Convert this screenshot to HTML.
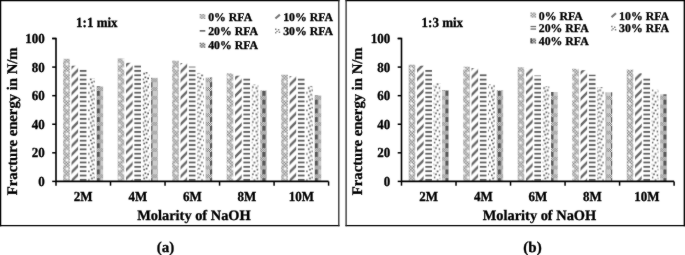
<!DOCTYPE html>
<html><head><meta charset="utf-8"><style>
html,body{margin:0;padding:0;background:#fff;width:685px;height:255px;overflow:hidden}
svg{display:block}
</style></head><body><div id="w">
<svg width="685" height="255" viewBox="0 0 685 255">
<style>
text{font-family:"Liberation Serif",serif;font-weight:bold;text-rendering:geometricPrecision;fill:#000;stroke:#000;stroke-width:0.3px}
.t13{font-size:13px}
.t11{font-size:11.8px}
.t14{font-size:14.4px}
.t14y{font-size:14.7px}
.t15{font-size:15px}
</style>
<defs>
<pattern id="p0" patternUnits="userSpaceOnUse" x="6.060" y="3.160" width="8.72" height="8.72">
<rect width="8.72" height="8.72" fill="#dedede"/>
<path d="M0.0 0.0h1.453v1.453h-1.453zM2.907 0.0h1.453v1.453h-1.453zM5.813 0.0h1.453v1.453h-1.453zM1.453 1.453h1.453v1.453h-1.453zM4.36 1.453h1.453v1.453h-1.453zM7.267 1.453h1.453v1.453h-1.453zM0.0 2.907h1.453v1.453h-1.453zM2.907 2.907h1.453v1.453h-1.453zM5.813 2.907h1.453v1.453h-1.453zM1.453 4.36h1.453v1.453h-1.453zM4.36 4.36h1.453v1.453h-1.453zM7.267 4.36h1.453v1.453h-1.453zM0.0 5.813h1.453v1.453h-1.453zM2.907 5.813h1.453v1.453h-1.453zM5.813 5.813h1.453v1.453h-1.453zM1.453 7.267h1.453v1.453h-1.453zM4.36 7.267h1.453v1.453h-1.453zM7.267 7.267h1.453v1.453h-1.453z" fill="#8a8a8a"/>
<path d="M0.000 -2.500L2.500 0.000L0.000 2.500L-2.500 0.000zM8.720 -2.500L11.220 0.000L8.720 2.500L6.220 0.000zM0.000 6.220L2.500 8.720L0.000 11.220L-2.500 8.720zM8.720 6.220L11.220 8.720L8.720 11.220L6.220 8.720zM4.360 1.860L6.860 4.360L4.360 6.860L1.860 4.360z" fill="#cacaca"/>
<path d="M0.000 -1.350L1.350 0.000L0.000 1.350L-1.350 0.000zM8.720 -1.350L10.070 0.000L8.720 1.350L7.370 0.000zM0.000 7.370L1.350 8.720L0.000 10.070L-1.350 8.720zM8.720 7.370L10.070 8.720L8.720 10.070L7.370 8.720zM4.360 3.010L5.710 4.360L4.360 5.710L3.010 4.360z" fill="#ffffff"/>
</pattern>
<pattern id="p1" patternUnits="userSpaceOnUse" x="8.380" y="0" width="8.72" height="8.72">
<rect width="8.72" height="8.72" fill="#fff"/>
<path d="M-3 3L3 -3M-3 11.72L11.72 -3M5.720000000000001 11.72L11.72 5.720000000000001" stroke="#686868" stroke-width="2.4"/>
</pattern>
<pattern id="p2" patternUnits="userSpaceOnUse" x="0" y="1.140" width="8.72" height="4.36">
<rect width="8.72" height="4.36" fill="#fff"/>
<rect x="0" y="-0.95" width="8.72" height="1.9" fill="#666"/>
<rect x="0" y="3.410" width="8.72" height="1.9" fill="#666"/>
</pattern>
<pattern id="p3" patternUnits="userSpaceOnUse" x="7.520" y="0.480" width="8.72" height="8.72">
<rect width="8.72" height="8.72" fill="#fff"/>
<path d="M-4.87 -9.17h1.7v1.7h-1.7zM-4.87 -0.45h1.7v1.7h-1.7zM-4.87 8.27h1.7v1.7h-1.7zM3.85 -9.17h1.7v1.7h-1.7zM3.85 -0.45h1.7v1.7h-1.7zM3.85 8.27h1.7v1.7h-1.7zM12.57 -9.17h1.7v1.7h-1.7zM12.57 -0.45h1.7v1.7h-1.7zM12.57 8.27h1.7v1.7h-1.7zM-3.67 -6.07h1.7v1.7h-1.7zM-3.67 2.65h1.7v1.7h-1.7zM-3.67 11.37h1.7v1.7h-1.7zM5.05 -6.07h1.7v1.7h-1.7zM5.05 2.65h1.7v1.7h-1.7zM5.05 11.37h1.7v1.7h-1.7zM13.77 -6.07h1.7v1.7h-1.7zM13.77 2.65h1.7v1.7h-1.7zM13.77 11.37h1.7v1.7h-1.7zM-6.87 -4.47h1.7v1.7h-1.7zM-6.87 4.25h1.7v1.7h-1.7zM-6.87 12.97h1.7v1.7h-1.7zM1.85 -4.47h1.7v1.7h-1.7zM1.85 4.25h1.7v1.7h-1.7zM1.85 12.97h1.7v1.7h-1.7zM10.57 -4.47h1.7v1.7h-1.7zM10.57 4.25h1.7v1.7h-1.7zM10.57 12.97h1.7v1.7h-1.7zM-2.47 -2.47h1.7v1.7h-1.7zM-2.47 6.25h1.7v1.7h-1.7zM-2.47 14.97h1.7v1.7h-1.7zM6.25 -2.47h1.7v1.7h-1.7zM6.25 6.25h1.7v1.7h-1.7zM6.25 14.97h1.7v1.7h-1.7zM14.97 -2.47h1.7v1.7h-1.7zM14.97 6.25h1.7v1.7h-1.7zM14.97 14.97h1.7v1.7h-1.7zM-1.27 -6.97h1.7v1.7h-1.7zM-1.27 1.75h1.7v1.7h-1.7zM-1.27 10.47h1.7v1.7h-1.7zM7.45 -6.97h1.7v1.7h-1.7zM7.45 1.75h1.7v1.7h-1.7zM7.45 10.47h1.7v1.7h-1.7zM16.17 -6.97h1.7v1.7h-1.7zM16.17 1.75h1.7v1.7h-1.7zM16.17 10.47h1.7v1.7h-1.7zM-8.47 -1.57h1.7v1.7h-1.7zM-8.47 7.15h1.7v1.7h-1.7zM-8.47 15.87h1.7v1.7h-1.7zM0.25 -1.57h1.7v1.7h-1.7zM0.25 7.15h1.7v1.7h-1.7zM0.25 15.87h1.7v1.7h-1.7zM8.97 -1.57h1.7v1.7h-1.7zM8.97 7.15h1.7v1.7h-1.7zM8.97 15.87h1.7v1.7h-1.7z" fill="#5e5e5e"/>
</pattern>
<pattern id="p4" patternUnits="userSpaceOnUse" x="0.680" y="3.780" width="8.72" height="8.72">
<rect width="8.72" height="8.72" fill="#eeeeee"/>
<rect x="0" y="0" width="8.72" height="4.8" fill="#cdcdcd"/>
<rect x="0" y="0" width="3.4" height="4.8" fill="#585858"/>
<path d="M0.0 4.8h1.09v0.981h-1.09zM2.18 4.8h1.09v0.981h-1.09zM4.36 4.8h1.09v0.981h-1.09zM6.54 4.8h1.09v0.981h-1.09zM1.09 5.781h1.09v0.981h-1.09zM3.27 5.781h1.09v0.981h-1.09zM5.45 5.781h1.09v0.981h-1.09zM7.63 5.781h1.09v0.981h-1.09zM0.0 6.762h1.09v0.981h-1.09zM2.18 6.762h1.09v0.981h-1.09zM4.36 6.762h1.09v0.981h-1.09zM6.54 6.762h1.09v0.981h-1.09zM1.09 7.743h1.09v0.981h-1.09zM3.27 7.743h1.09v0.981h-1.09zM5.45 7.743h1.09v0.981h-1.09zM7.63 7.743h1.09v0.981h-1.09z" fill="#6e6e6e"/>
</pattern>
</defs>
<filter id="bl" x="0" y="0" width="685" height="255" filterUnits="userSpaceOnUse" color-interpolation-filters="sRGB"><feConvolveMatrix order="3" kernelMatrix="1 2 1 2 40 2 1 2 1" edgeMode="duplicate"/></filter>
<g filter="url(#bl)">
<rect width="685" height="255" fill="#fff"/>
<path d="M0 0.6H339.5M0 225.6H339.5" stroke="#000" stroke-width="1.3"/>
<path d="M0.6 0V226.3" stroke="#000" stroke-width="1.3"/>
<path d="M338.8 0V226.3" stroke="#2a2a2a" stroke-width="1.3"/>
<rect x="63.15" y="58.80" width="6.6" height="122.60" fill="url(#p0)"/>
<rect x="71.50" y="65.70" width="6.6" height="115.70" fill="url(#p1)"/>
<rect x="79.85" y="69.30" width="6.6" height="112.10" fill="url(#p2)"/>
<rect x="88.20" y="78.10" width="6.6" height="103.30" fill="url(#p3)"/>
<rect x="96.55" y="86.30" width="6.6" height="95.10" fill="url(#p4)"/>
<rect x="117.67" y="58.40" width="6.6" height="123.00" fill="url(#p0)"/>
<rect x="126.02" y="62.80" width="6.6" height="118.60" fill="url(#p1)"/>
<rect x="134.37" y="64.70" width="6.6" height="116.70" fill="url(#p2)"/>
<rect x="142.72" y="72.00" width="6.6" height="109.40" fill="url(#p3)"/>
<rect x="151.07" y="77.80" width="6.6" height="103.60" fill="url(#p4)"/>
<rect x="172.19" y="60.60" width="6.6" height="120.80" fill="url(#p0)"/>
<rect x="180.54" y="63.00" width="6.6" height="118.40" fill="url(#p1)"/>
<rect x="188.89" y="66.60" width="6.6" height="114.80" fill="url(#p2)"/>
<rect x="197.24" y="72.90" width="6.6" height="108.50" fill="url(#p3)"/>
<rect x="205.59" y="77.50" width="6.6" height="103.90" fill="url(#p4)"/>
<rect x="226.71" y="73.40" width="6.6" height="108.00" fill="url(#p0)"/>
<rect x="235.06" y="75.70" width="6.6" height="105.70" fill="url(#p1)"/>
<rect x="243.41" y="78.10" width="6.6" height="103.30" fill="url(#p2)"/>
<rect x="251.76" y="84.50" width="6.6" height="96.90" fill="url(#p3)"/>
<rect x="260.11" y="90.50" width="6.6" height="90.90" fill="url(#p4)"/>
<rect x="281.23" y="74.70" width="6.6" height="106.70" fill="url(#p0)"/>
<rect x="289.58" y="76.00" width="6.6" height="105.40" fill="url(#p1)"/>
<rect x="297.93" y="77.70" width="6.6" height="103.70" fill="url(#p2)"/>
<rect x="306.28" y="85.90" width="6.6" height="95.50" fill="url(#p3)"/>
<rect x="314.63" y="95.40" width="6.6" height="86.00" fill="url(#p4)"/>
<path d="M52.2 38.5H56.0V181.4H328.6" fill="none" stroke="#000" stroke-width="1.6"/>
<path d="M52.2 181.40H56.0" stroke="#000" stroke-width="1.5"/>
<text transform="translate(44.7 186.00) scale(1 1.06)" text-anchor="end" class="t13">0</text>
<path d="M52.2 152.82H56.0" stroke="#000" stroke-width="1.5"/>
<text transform="translate(44.7 157.42) scale(1 1.06)" text-anchor="end" class="t13">20</text>
<path d="M52.2 124.24H56.0" stroke="#000" stroke-width="1.5"/>
<text transform="translate(44.7 128.84) scale(1 1.06)" text-anchor="end" class="t13">40</text>
<path d="M52.2 95.66H56.0" stroke="#000" stroke-width="1.5"/>
<text transform="translate(44.7 100.26) scale(1 1.06)" text-anchor="end" class="t13">60</text>
<path d="M52.2 67.08H56.0" stroke="#000" stroke-width="1.5"/>
<text transform="translate(44.7 71.68) scale(1 1.06)" text-anchor="end" class="t13">80</text>
<path d="M52.2 38.50H56.0" stroke="#000" stroke-width="1.5"/>
<text transform="translate(44.7 43.10) scale(1 1.06)" text-anchor="end" class="t13">100</text>
<path d="M56.00 181.4V185.70000000000002" stroke="#000" stroke-width="1.5"/>
<path d="M110.52 181.4V185.70000000000002" stroke="#000" stroke-width="1.5"/>
<path d="M165.04 181.4V185.70000000000002" stroke="#000" stroke-width="1.5"/>
<path d="M219.56 181.4V185.70000000000002" stroke="#000" stroke-width="1.5"/>
<path d="M274.08 181.4V185.70000000000002" stroke="#000" stroke-width="1.5"/>
<path d="M328.60 181.4V185.70000000000002" stroke="#000" stroke-width="1.5"/>
<text transform="translate(83.26 201.0) scale(1 1.06)" text-anchor="middle" class="t13">2M</text>
<text transform="translate(137.78 201.0) scale(1 1.06)" text-anchor="middle" class="t13">4M</text>
<text transform="translate(192.30 201.0) scale(1 1.06)" text-anchor="middle" class="t13">6M</text>
<text transform="translate(246.82 201.0) scale(1 1.06)" text-anchor="middle" class="t13">8M</text>
<text transform="translate(301.34 201.0) scale(1 1.06)" text-anchor="middle" class="t13">10M</text>
<text x="194" y="220" text-anchor="middle" class="t14">Molarity of NaOH</text>
<text transform="translate(16.9 121.3) rotate(-90)" text-anchor="middle" class="t14y">Fracture energy in N/m</text>
<text transform="translate(76.1 26.5) scale(1 1.07)" class="t13">1:1 mix</text>
<rect x="199.7" y="14.0" width="5.6" height="5.0" fill="#d8d8d8"/><path d="M199.7 14.0h1.4v1.25h-1.4zM202.5 14.0h1.4v1.25h-1.4zM201.1 15.25h1.4v1.25h-1.4zM203.9 15.25h1.4v1.25h-1.4zM199.7 16.5h1.4v1.25h-1.4zM202.5 16.5h1.4v1.25h-1.4zM201.1 17.75h1.4v1.25h-1.4zM203.9 17.75h1.4v1.25h-1.4z" fill="#9a9a9a"/>
<text x="208.20" y="20.90" class="t11">0% RFA</text>
<path d="M275.4 18.5L279.9 14.6" stroke="#7a7a7a" stroke-width="2.1"/>
<text x="283.20" y="20.90" class="t11">10% RFA</text>
<rect x="199.7" y="30.0" width="5.6" height="1.7" fill="#707070"/>
<text x="208.20" y="35.00" class="t11">20% RFA</text>
<path d="M275.0 28.400000000000002h1.5v1.5h-1.5zM277.9 29.0h1.5v1.5h-1.5zM276.3 30.700000000000003h1.4v1.4h-1.4zM278.7 31.5h1.5v1.5h-1.5zM275.09999999999997 32.1h1.3v1.3h-1.3z" fill="#808080"/>
<text x="283.20" y="35.00" class="t11">30% RFA</text>
<rect x="199.7" y="42.8" width="5.6" height="5.0" fill="#c8c8c8"/><path d="M199.7 42.8h1.4v1.25h-1.4zM202.5 42.8h1.4v1.25h-1.4zM201.1 44.05h1.4v1.25h-1.4zM203.9 44.05h1.4v1.25h-1.4zM199.7 45.3h1.4v1.25h-1.4zM202.5 45.3h1.4v1.25h-1.4zM201.1 46.55h1.4v1.25h-1.4zM203.9 46.55h1.4v1.25h-1.4z" fill="#7a7a7a"/>
<text x="208.20" y="49.20" class="t11">40% RFA</text>
<path d="M345.5 0.6H685.0M345.5 225.6H685.0" stroke="#000" stroke-width="1.3"/>
<path d="M346.1 0V226.3" stroke="#2a2a2a" stroke-width="1.3"/>
<path d="M684.3 0V226.3" stroke="#000" stroke-width="1.3"/>
<rect x="408.65" y="64.70" width="6.6" height="116.70" fill="url(#p0)"/>
<rect x="417.00" y="65.70" width="6.6" height="115.70" fill="url(#p1)"/>
<rect x="425.35" y="69.60" width="6.6" height="111.80" fill="url(#p2)"/>
<rect x="433.70" y="83.00" width="6.6" height="98.40" fill="url(#p3)"/>
<rect x="442.05" y="90.00" width="6.6" height="91.40" fill="url(#p4)"/>
<rect x="463.17" y="66.70" width="6.6" height="114.70" fill="url(#p0)"/>
<rect x="471.52" y="68.10" width="6.6" height="113.30" fill="url(#p1)"/>
<rect x="479.87" y="73.60" width="6.6" height="107.80" fill="url(#p2)"/>
<rect x="488.22" y="84.40" width="6.6" height="97.00" fill="url(#p3)"/>
<rect x="496.57" y="90.30" width="6.6" height="91.10" fill="url(#p4)"/>
<rect x="517.69" y="67.30" width="6.6" height="114.10" fill="url(#p0)"/>
<rect x="526.04" y="68.70" width="6.6" height="112.70" fill="url(#p1)"/>
<rect x="534.39" y="75.50" width="6.6" height="105.90" fill="url(#p2)"/>
<rect x="542.74" y="86.30" width="6.6" height="95.10" fill="url(#p3)"/>
<rect x="551.09" y="92.00" width="6.6" height="89.40" fill="url(#p4)"/>
<rect x="572.21" y="68.70" width="6.6" height="112.70" fill="url(#p0)"/>
<rect x="580.56" y="70.20" width="6.6" height="111.20" fill="url(#p1)"/>
<rect x="588.91" y="74.60" width="6.6" height="106.80" fill="url(#p2)"/>
<rect x="597.26" y="87.00" width="6.6" height="94.40" fill="url(#p3)"/>
<rect x="605.61" y="92.30" width="6.6" height="89.10" fill="url(#p4)"/>
<rect x="626.73" y="69.60" width="6.6" height="111.80" fill="url(#p0)"/>
<rect x="635.08" y="73.30" width="6.6" height="108.10" fill="url(#p1)"/>
<rect x="643.43" y="77.50" width="6.6" height="103.90" fill="url(#p2)"/>
<rect x="651.78" y="89.30" width="6.6" height="92.10" fill="url(#p3)"/>
<rect x="660.13" y="94.30" width="6.6" height="87.10" fill="url(#p4)"/>
<path d="M397.7 38.5H401.5V181.4H674.1" fill="none" stroke="#000" stroke-width="1.6"/>
<path d="M397.7 181.40H401.5" stroke="#000" stroke-width="1.5"/>
<text transform="translate(390.2 186.00) scale(1 1.06)" text-anchor="end" class="t13">0</text>
<path d="M397.7 152.82H401.5" stroke="#000" stroke-width="1.5"/>
<text transform="translate(390.2 157.42) scale(1 1.06)" text-anchor="end" class="t13">20</text>
<path d="M397.7 124.24H401.5" stroke="#000" stroke-width="1.5"/>
<text transform="translate(390.2 128.84) scale(1 1.06)" text-anchor="end" class="t13">40</text>
<path d="M397.7 95.66H401.5" stroke="#000" stroke-width="1.5"/>
<text transform="translate(390.2 100.26) scale(1 1.06)" text-anchor="end" class="t13">60</text>
<path d="M397.7 67.08H401.5" stroke="#000" stroke-width="1.5"/>
<text transform="translate(390.2 71.68) scale(1 1.06)" text-anchor="end" class="t13">80</text>
<path d="M397.7 38.50H401.5" stroke="#000" stroke-width="1.5"/>
<text transform="translate(390.2 43.10) scale(1 1.06)" text-anchor="end" class="t13">100</text>
<path d="M401.50 181.4V185.70000000000002" stroke="#000" stroke-width="1.5"/>
<path d="M456.02 181.4V185.70000000000002" stroke="#000" stroke-width="1.5"/>
<path d="M510.54 181.4V185.70000000000002" stroke="#000" stroke-width="1.5"/>
<path d="M565.06 181.4V185.70000000000002" stroke="#000" stroke-width="1.5"/>
<path d="M619.58 181.4V185.70000000000002" stroke="#000" stroke-width="1.5"/>
<path d="M674.10 181.4V185.70000000000002" stroke="#000" stroke-width="1.5"/>
<text transform="translate(428.76 201.0) scale(1 1.06)" text-anchor="middle" class="t13">2M</text>
<text transform="translate(483.28 201.0) scale(1 1.06)" text-anchor="middle" class="t13">4M</text>
<text transform="translate(537.80 201.0) scale(1 1.06)" text-anchor="middle" class="t13">6M</text>
<text transform="translate(592.32 201.0) scale(1 1.06)" text-anchor="middle" class="t13">8M</text>
<text transform="translate(646.84 201.0) scale(1 1.06)" text-anchor="middle" class="t13">10M</text>
<text x="539.5" y="220" text-anchor="middle" class="t14">Molarity of NaOH</text>
<text transform="translate(362.4 121.3) rotate(-90)" text-anchor="middle" class="t14y">Fracture energy in N/m</text>
<text transform="translate(421.6 26.5) scale(1 1.07)" class="t13">1:3 mix</text>
<rect x="530.5" y="12.6" width="5.6" height="5.0" fill="#d8d8d8"/><path d="M530.5 12.6h1.4v1.25h-1.4zM533.3 12.6h1.4v1.25h-1.4zM531.9 13.85h1.4v1.25h-1.4zM534.7 13.85h1.4v1.25h-1.4zM530.5 15.1h1.4v1.25h-1.4zM533.3 15.1h1.4v1.25h-1.4zM531.9 16.35h1.4v1.25h-1.4zM534.7 16.35h1.4v1.25h-1.4z" fill="#9a9a9a"/>
<text x="538.80" y="19.50" class="t11">0% RFA</text>
<path d="M611.5 17.1L616.0 13.2" stroke="#7a7a7a" stroke-width="2.1"/>
<text x="619.10" y="19.50" class="t11">10% RFA</text>
<rect x="530.5" y="25.9" width="5.6" height="1.3" fill="#707070"/><rect x="530.5" y="28.4" width="5.6" height="1.3" fill="#707070"/>
<text x="538.80" y="32.40" class="t11">20% RFA</text>
<path d="M611.0999999999999 25.8h1.5v1.5h-1.5zM614.0 26.4h1.5v1.5h-1.5zM612.4 28.1h1.4v1.4h-1.4zM614.8 28.9h1.5v1.5h-1.5zM611.1999999999999 29.5h1.3v1.3h-1.3z" fill="#808080"/>
<text x="619.10" y="32.40" class="t11">30% RFA</text>
<rect x="530.5" y="38.4" width="5.6" height="5.0" fill="#c0c0c0"/><path d="M530.5 38.4h1.4v1.25h-1.4zM533.3 38.4h1.4v1.25h-1.4zM531.9 39.65h1.4v1.25h-1.4zM534.7 39.65h1.4v1.25h-1.4zM530.5 40.9h1.4v1.25h-1.4zM533.3 40.9h1.4v1.25h-1.4zM531.9 42.15h1.4v1.25h-1.4zM534.7 42.15h1.4v1.25h-1.4z" fill="#707070"/><rect x="530.5" y="38.4" width="1.6" height="5.0" fill="#555"/>
<text x="538.80" y="45.30" class="t11">40% RFA</text>
<text x="165.6" y="252.2" text-anchor="middle" class="t15">(a)</text>
<text x="532.5" y="252.2" text-anchor="middle" class="t15">(b)</text>
</g>
</svg>
</div></body></html>
